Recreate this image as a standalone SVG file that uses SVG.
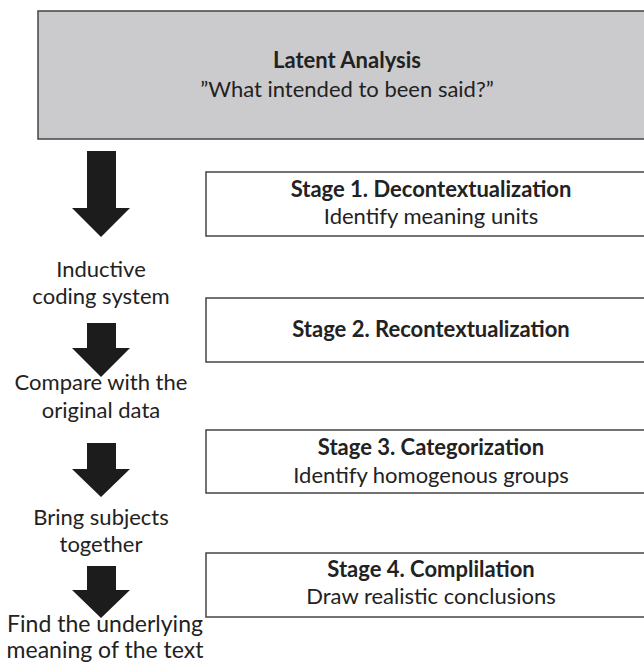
<svg xmlns="http://www.w3.org/2000/svg" width="644" height="669" viewBox="0 0 644 669">
<style>
.box{fill:#fff;stroke:#444;stroke-width:1.5}
.top{fill:#cbcbcd;stroke:#444;stroke-width:1.5}
.t{font-family:Lato,"Open Sans",sans-serif;font-size:22px;fill:#222;text-anchor:middle}
.l{font-size:23px}
.b{font-weight:bold}
.arr{fill:#1c1c1c}
</style>
<rect width="644" height="669" fill="#fff"/>
<g id="latent">
<rect class="top" x="38" y="11" width="620" height="128"/>
<text class="t b" x="347" y="68">Latent Analysis</text>
<text class="t" x="347" y="97">”What intended to been said?”</text>
</g>
<g id="stage1">
<rect class="box" x="206" y="172" width="452" height="64"/>
<text class="t b" x="431" y="197">Stage 1. Decontextualization</text>
<text class="t" x="431" y="224">Identify meaning units</text>
</g>
<g id="stage2">
<rect class="box" x="206" y="298" width="452" height="64"/>
<text class="t b" x="431" y="337">Stage 2. Recontextualization</text>
</g>
<g id="stage3">
<rect class="box" x="206" y="430" width="452" height="63"/>
<text class="t b" x="431" y="455">Stage 3. Categorization</text>
<text class="t" x="431" y="483">Identify homogenous groups</text>
</g>
<g id="stage4">
<rect class="box" x="206" y="553" width="452" height="64"/>
<text class="t b" x="431" y="577">Stage 4. Complilation</text>
<text class="t" x="431" y="604">Draw realistic conclusions</text>
</g>
<g id="labels">
<text class="t" x="101" y="277">Inductive</text>
<text class="t" x="101" y="304">coding system</text>
<text class="t" x="101" y="390">Compare with the</text>
<text class="t" x="101" y="418">original data</text>
<text class="t" x="101" y="525">Bring subjects</text>
<text class="t" x="101" y="552">together</text>
<text class="t l" x="105" y="632">Find the underlying</text>
<text class="t l" x="105" y="658">meaning of the text</text>
</g>
<g id="connectors">
<polygon class="arr" points="87,151 116,151 116,208 130,208 101,237 72,208 87,208"/>
<polygon class="arr" points="87,323 116,323 116,348 130,348 101,377 72,348 87,348"/>
<polygon class="arr" points="87,443 116,443 116,469 130,469 101,497 72,469 87,469"/>
<polygon class="arr" points="87,566 116,566 116,590 130,590 101,618 72,590 87,590"/>
</g>
</svg>
